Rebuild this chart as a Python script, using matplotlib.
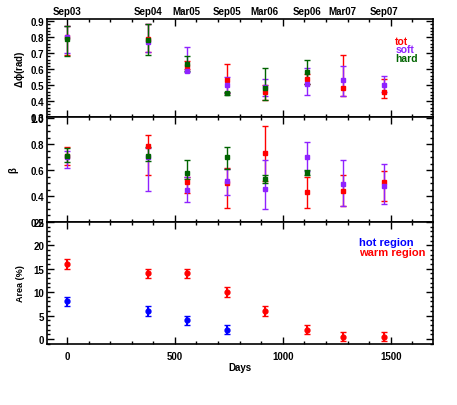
import numpy as np
import matplotlib
matplotlib.use("Agg")
import matplotlib.pyplot as plt
from matplotlib.ticker import MultipleLocator

plt.rcParams['font.family'] = 'Liberation Sans'
plt.rcParams['font.weight'] = 'bold'
plt.rcParams['font.size'] = 7
plt.rcParams['axes.labelweight'] = 'bold'
plt.rcParams['mathtext.default'] = 'regular'

days = [0, 375, 555, 740, 917, 1111, 1278, 1468]
epochs = ['Sep03', 'Sep04', 'Mar05', 'Sep05', 'Mar06', 'Sep06', 'Mar07', 'Sep07']

# phase lag (rad)
dphi_tot = [0.80, 0.79, 0.62, 0.53, 0.46, 0.54, 0.48, 0.46]
dphi_tot_lo = [0.69, 0.71, 0.60, 0.45, 0.41, 0.51, 0.43, 0.42]
dphi_tot_hi = [0.87, 0.88, 0.65, 0.63, 0.50, 0.57, 0.69, 0.54]
dphi_soft = [0.80, 0.77, 0.59, 0.50, 0.49, 0.51, 0.53, 0.50]
dphi_soft_lo = [0.70, 0.71, 0.58, 0.45, 0.43, 0.44, 0.43, 0.46]
dphi_soft_hi = [0.87, 0.88, 0.74, 0.55, 0.54, 0.61, 0.62, 0.56]
dphi_hard = [0.79, 0.78, 0.63, 0.45, 0.48, 0.58]
dphi_hard_lo = [0.68, 0.69, 0.59, 0.44, 0.41, 0.51]
dphi_hard_hi = [0.87, 0.88, 0.68, 0.46, 0.61, 0.66]

# beta
beta_tot = [0.71, 0.79, 0.51, 0.50, 0.73, 0.43, 0.44, 0.505]
beta_tot_lo = [0.64, 0.56, 0.42, 0.31, 0.52, 0.31, 0.32, 0.36]
beta_tot_hi = [0.78, 0.87, 0.55, 0.62, 0.94, 0.55, 0.56, 0.59]
beta_soft = [0.70, 0.70, 0.45, 0.52, 0.455, 0.70, 0.49, 0.475]
beta_soft_lo = [0.62, 0.44, 0.35, 0.41, 0.30, 0.59, 0.325, 0.34]
beta_soft_hi = [0.75, 0.77, 0.55, 0.61, 0.68, 0.82, 0.68, 0.65]
beta_hard = [0.71, 0.71, 0.58, 0.70, 0.53, 0.58]
beta_hard_lo = [0.66, 0.67, 0.53, 0.61, 0.50, 0.56]
beta_hard_hi = [0.77, 0.78, 0.68, 0.78, 0.56, 0.60]

# area (%)
warm_area = [16, 14, 14, 10, 6, 2, 0.5, 0.5]
warm_err = [1, 1, 1, 1, 1, 1, 1, 1]
hot_area = [8, 6, 4, 2]
hot_err = [1, 1, 1, 1]

RED = '#ff0000'
PURPLE = '#8f22ff'
GREEN = '#006400'
BLUE = '#0000ff'

fig = plt.figure(figsize=(4.57, 4.06), dpi=100)
L, W = 0.103, 0.844
ax1 = fig.add_axes([L, 0.709, W, 0.242])
ax2 = fig.add_axes([L, 0.451, W, 0.258])
ax3 = fig.add_axes([L, 0.150, W, 0.301])


def ebar(ax, x, y, lo, hi, c, m='s', ms=2.8):
    y = np.array(y)
    err = [y - np.array(lo), np.array(hi) - y]
    ax.errorbar(x, y, yerr=err, fmt=m, color=c, ms=ms, capsize=2, elinewidth=1, capthick=1)


def style(ax):
    ax.set_xlim(-92, 1695)
    ax.xaxis.set_major_locator(MultipleLocator(500))
    ax.xaxis.set_minor_locator(MultipleLocator(100))
    ax.tick_params(which='both', direction='in', top=True, right=True, width=1, pad=2)
    ax.tick_params(which='major', length=5)
    ax.tick_params(which='minor', length=2.5)
    for s in ax.spines.values():
        s.set_linewidth(1.2)


ebar(ax1, days, dphi_tot, dphi_tot_lo, dphi_tot_hi, RED)
ebar(ax1, days, dphi_soft, dphi_soft_lo, dphi_soft_hi, PURPLE)
ebar(ax1, days[:6], dphi_hard, dphi_hard_lo, dphi_hard_hi, GREEN)
style(ax1)
ax1.set_ylim(0.3, 0.915)
ax1.yaxis.set_major_locator(MultipleLocator(0.1))
ax1.yaxis.set_minor_locator(MultipleLocator(0.02))
ax1.set_xticklabels([])
ax1.set_ylabel(r'$\Delta\phi$(rad)', labelpad=3)
for d, e in zip(days, epochs):
    ax1.text(d, 1.025, e, transform=ax1.get_xaxis_transform(), ha='center', va='bottom')
ax1.text(0.903, 0.780, 'tot', color=RED, transform=ax1.transAxes, ha='left', va='center', fontsize=7.5)
ax1.text(0.903, 0.690, 'soft', color=PURPLE, transform=ax1.transAxes, ha='left', va='center', fontsize=7.5)
ax1.text(0.903, 0.600, 'hard', color=GREEN, transform=ax1.transAxes, ha='left', va='center', fontsize=7.5)

ebar(ax2, days, beta_tot, beta_tot_lo, beta_tot_hi, RED)
ebar(ax2, days, beta_soft, beta_soft_lo, beta_soft_hi, PURPLE)
ebar(ax2, days[:6], beta_hard, beta_hard_lo, beta_hard_hi, GREEN)
style(ax2)
ax2.set_ylim(0.2, 1.01)
ax2.yaxis.set_major_locator(MultipleLocator(0.2))
ax2.yaxis.set_minor_locator(MultipleLocator(0.05))
ax2.set_xticklabels([])
ax2.set_ylabel(r'$\beta$', labelpad=7)

ax3.errorbar(days, warm_area, yerr=warm_err, fmt='o', color=RED, ms=3.5, capsize=2.5, capthick=1)
ax3.errorbar(days[:4], hot_area, yerr=hot_err, fmt='o', color=BLUE, ms=3.5, capsize=2.5, capthick=1)
style(ax3)
ax3.tick_params(axis='x', pad=5)
ax3.set_ylim(-1.1, 25)
ax3.yaxis.set_major_locator(MultipleLocator(5))
ax3.yaxis.set_minor_locator(MultipleLocator(1))
ax3.set_ylabel('Area (%)', labelpad=6, fontsize=6.5)
ax3.set_xlabel('Days', labelpad=1)
ax3.text(0.808, 0.834, 'hot region', color=BLUE, transform=ax3.transAxes, ha='left', va='center', fontsize=8)
ax3.text(0.808, 0.752, 'warm region', color=RED, transform=ax3.transAxes, ha='left', va='center', fontsize=8)

fig.savefig('out.png', dpi=100)
